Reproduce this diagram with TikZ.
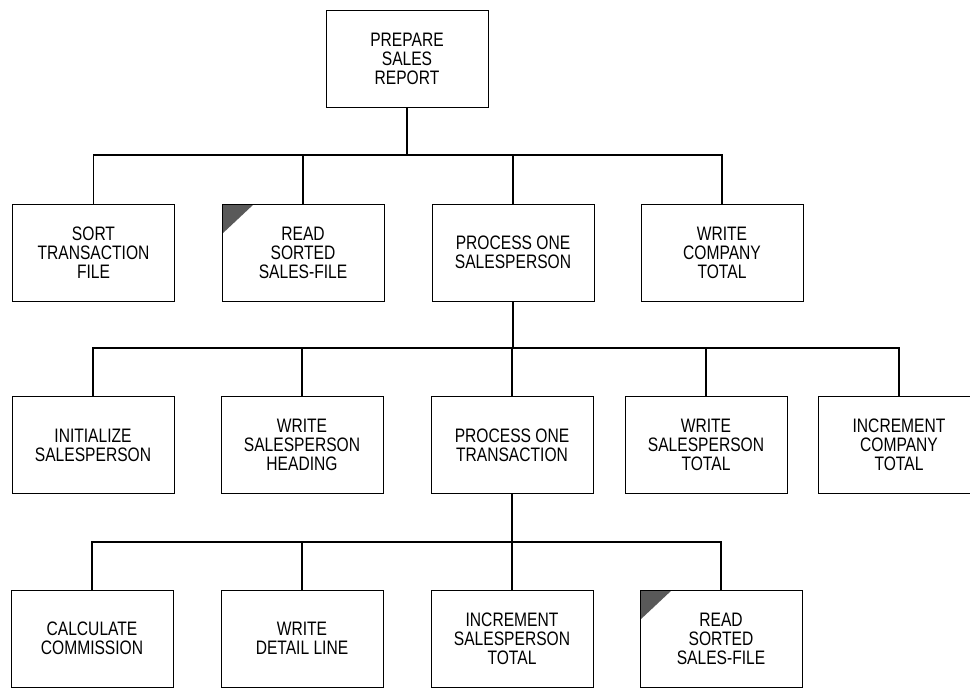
\documentclass[tikz,border=0pt]{standalone}
\usepackage{fontspec}
\setmainfont{Liberation Sans}[FakeStretch=0.8]
\begin{document}
\begin{tikzpicture}[x=1pt,y=-1pt,
  box/.style={draw=black, line width=1pt, rectangle, minimum width=162pt, minimum height=97pt,
    inner sep=0pt, align=center, font=\fontsize{19.5}{19}\selectfont},
  shaded/.style={path picture={\fill[black!65] (path picture bounding box.north west) -- ++(32pt,0pt) -- ++(-32pt,-30pt) -- cycle;}},
  conn/.style={draw=black, line width=1.8pt, line join=miter}]
\clip (0,0) rectangle (970,688);
\fill[white] (0,0) rectangle (970,688);
% bar levels
\coordinate (b1) at (0,155);
\coordinate (b2) at (0,348);
\coordinate (b3) at (0,542);
% level 0
\node[box] (top) at (407,58.5) {PREPARE\\SALES\\REPORT};
% level 1
\node[box] (s1) at (93.5,252.5) {SORT\\TRANSACTION\\FILE};
\node[box,shaded] (s2) at (303,252.5) {READ\\SORTED\\SALES-FILE};
\node[box] (s3) at (513,252.5) {PROCESS ONE\\SALESPERSON};
\node[box] (s4) at (722,252.5) {WRITE\\COMPANY\\TOTAL};
% level 2
\node[box] (t1) at (93,445) {INITIALIZE\\SALESPERSON};
\node[box] (t2) at (302,445) {WRITE\\SALESPERSON\\HEADING};
\node[box] (t3) at (512,445) {PROCESS ONE\\TRANSACTION};
\node[box] (t4) at (706,445) {WRITE\\SALESPERSON\\TOTAL};
\node[box] (t5) at (899,445) {INCREMENT\\COMPANY\\TOTAL};
% level 3
\node[box] (u1) at (92,638.5) {CALCULATE\\COMMISSION};
\node[box] (u2) at (302,638.5) {WRITE\\DETAIL LINE};
\node[box] (u3) at (512,638.5) {INCREMENT\\SALESPERSON\\TOTAL};
\node[box,shaded] (u4) at (721,638.5) {READ\\SORTED\\SALES-FILE};
% connectors level 1
\draw[conn] (top.south) -- (top.south |- b1);
\draw[conn] (s1.north) |- (s4.north |- b1) -- (s4.north);
\draw[conn] (s2.north) -- (s2.north |- b1);
\draw[conn] (s3.north) -- (s3.north |- b1);
% connectors level 2
\draw[conn] (s3.south) -- (s3.south |- b2);
\draw[conn] (t1.north) |- (t5.north |- b2) -- (t5.north);
\draw[conn] (t2.north) -- (t2.north |- b2);
\draw[conn] (t3.north) -- (t3.north |- b2);
\draw[conn] (t4.north) -- (t4.north |- b2);
% connectors level 3
\draw[conn] (t3.south) -- (t3.south |- b3);
\draw[conn] (u1.north) |- (u4.north |- b3) -- (u4.north);
\draw[conn] (u2.north) -- (u2.north |- b3);
\draw[conn] (u3.north) -- (u3.north |- b3);
\end{tikzpicture}
\end{document}
